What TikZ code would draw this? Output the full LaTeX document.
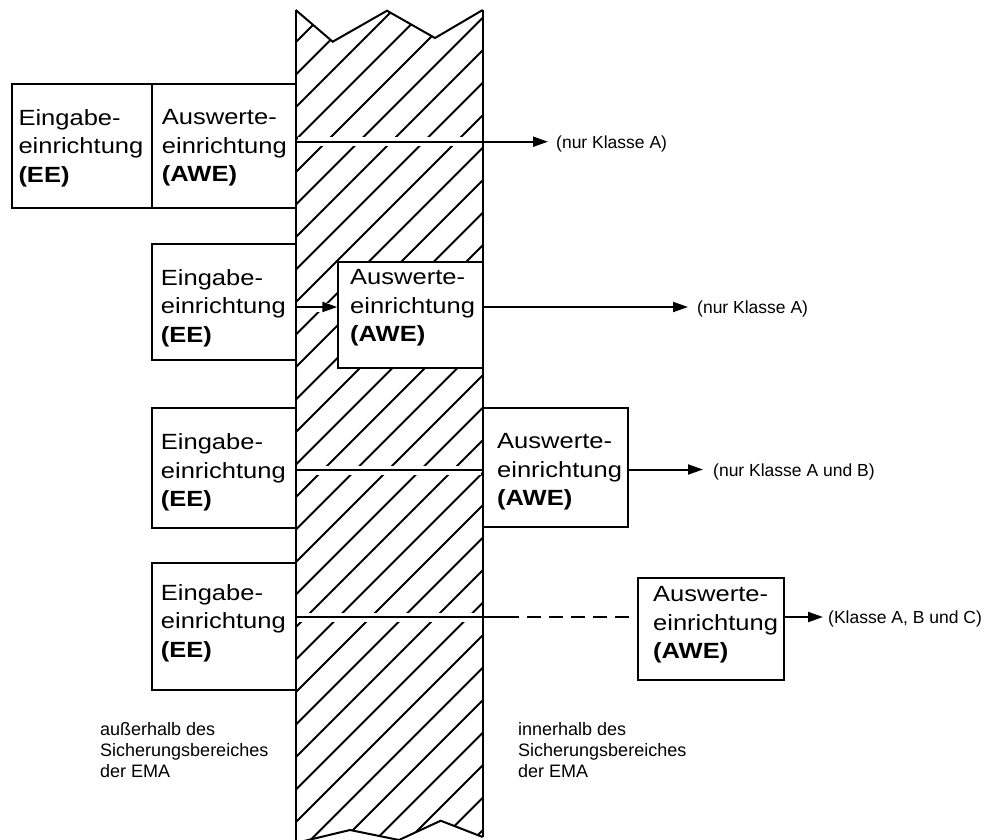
\documentclass[tikz,border=0pt]{standalone}
\usepackage{fontspec}
\setmainfont{Liberation Sans}
\newfontfamily\boxfont[FakeStretch=1.16]{Liberation Sans}
\usetikzlibrary{arrows.meta,fit}
\begin{document}
\begin{tikzpicture}[x=1pt,y=-1pt,
  box/.style={draw, line width=2pt, fill=white, inner sep=0pt},
  txt/.style={font=\boxfont\fontsize{22}{28.5}\selectfont, align=left, inner sep=0pt, anchor=north west},
  lab/.style={font=\fontsize{17.5}{21}\selectfont, inner sep=0pt, anchor=base west},
  note/.style={font=\fontsize{18}{21}\selectfont, align=left, inner sep=0pt, anchor=north west},
  wall/.style={line width=2.3pt},
  hatch/.style={line width=1.9pt},
  conn/.style={line width=2pt},
  arr/.style={conn, -{Triangle[length=15pt,width=10pt]}},
  halo/.style={white, line width=9pt}
]
\useasboundingbox (0,0) rectangle (994,839);

% hatching of the wall
\begin{scope}
  \clip (295.7,10) -- (332.7,41.7) -- (387,10.7) -- (435,38) -- (482.7,10)
        -- (482.7,837) -- (440.7,820.7) -- (399,840) -- (350,830) -- (295.7,843) -- cycle;
  \foreach \k in {9,...,41}{
    \pgfmathsetmacro{\c}{13+32.5*\k}
    \draw[hatch] (295.7,\c-295.7) -- (482.7,\c-482.7);
  }
\end{scope}

% wall outline
\draw[wall] (295.7,10) -- (295.7,845);
\draw[wall] (482.7,10) -- (482.7,837);
\draw[line width=2pt, line join=miter] (295.7,10) -- (332.7,41.7) -- (387,10.7) -- (435,38) -- (482.7,10);
\draw[line width=2pt] (295.7,843) -- (350,830) -- (399,840) -- (440.7,820.7) -- (482.7,837);

% gaps in the hatching along the connectors
\draw[halo] (298,141.7) -- (480.5,141.7);
\draw[halo] (298,307) -- (336,307);
\draw[halo] (298,470) -- (480.5,470);
\draw[halo] (298,617) -- (480.5,617);

% corner coordinates of the boxes
\coordinate (e1a) at (11.7,84);   \coordinate (e1b) at (151.7,207.7);
\coordinate (w1a) at (151.7,84);  \coordinate (w1b) at (295.7,207.7);
\coordinate (e2a) at (151.7,244); \coordinate (e2b) at (295.7,360);
\coordinate (w2a) at (338.3,262); \coordinate (w2b) at (482.7,368.3);
\coordinate (e3a) at (151.7,407.7); \coordinate (e3b) at (295.7,528);
\coordinate (w3a) at (482.7,407.7); \coordinate (w3b) at (628,527);
\coordinate (e4a) at (151.7,563); \coordinate (e4b) at (295.7,690);
\coordinate (w4a) at (638,578);   \coordinate (w4b) at (784,680);

\node[box, fit=(e1a)(e1b)] (ee1) {};
\node[box, fit=(w1a)(w1b)] (awe1) {};
\node[box, fit=(e2a)(e2b)] (ee2) {};
\node[box, fit=(w2a)(w2b)] (awe2) {};
\node[box, fit=(e3a)(e3b)] (ee3) {};
\node[box, fit=(w3a)(w3b)] (awe3) {};
\node[box, fit=(e4a)(e4b)] (ee4) {};
\node[box, fit=(w4a)(w4b)] (awe4) {};

% box texts
\node[txt] (tee1) at (18.3,109.3) {Eingabe-\\einrichtung\\\textbf{(EE)}};
\node[txt] (tawe1) at (161.7,109.3) {Auswerte-\\einrichtung\\\textbf{(AWE)}};
\node[txt] (tee2) at (160.7,269.3) {Eingabe-\\einrichtung\\\textbf{(EE)}};
\node[txt] (tawe2) at (350,269.3) {Auswerte-\\einrichtung\\\textbf{(AWE)}};
\node[txt] (tee3) at (160.7,433.5) {Eingabe-\\einrichtung\\\textbf{(EE)}};
\node[txt] (tawe3) at (497,433.5) {Auswerte-\\einrichtung\\\textbf{(AWE)}};
\node[txt] (tee4) at (160.7,584) {Eingabe-\\einrichtung\\\textbf{(EE)}};
\node[txt] (tawe4) at (653,586.5) {Auswerte-\\einrichtung\\\textbf{(AWE)}};

% connectors
\coordinate (o1) at (548,141.7);
\coordinate (y2) at (0,307);
\coordinate (o2) at (688,307);
\coordinate (y3) at (0,469.5);
\coordinate (o3) at (703,469.5);
\coordinate (d4) at (505,617);
\coordinate (o4) at (823,617);

\draw[arr] (awe1.east |- o1) -- (o1);
\draw[arr] (ee2.east |- y2) -- (awe2.west |- y2);
\draw[arr] (awe2.east |- o2) -- (o2);
\draw[conn] (ee3.east |- y3) -- (awe3.west |- y3);
\draw[arr] (awe3.east |- o3) -- (o3);
\draw[conn] (ee4.east |- d4) -- (d4);
\draw[conn, dash pattern=on 14pt off 8pt] (d4) -- (awe4.west |- d4);
\draw[arr] (awe4.east |- o4) -- (o4);

% output labels
\node[lab] (l1) at (556,148.2) {(nur Klasse A)};
\node[lab] (l2) at (697,313.5) {(nur Klasse A)};
\node[lab] (l3) at (713,476) {(nur Klasse A und B)};
\node[lab] (l4) at (828,623.5) {(Klasse A, B und C)};

% zone notes
\node[note] (n1) at (100,722) {außerhalb des\\Sicherungsbereiches\\der EMA};
\node[note] (n2) at (518,722) {innerhalb des\\Sicherungsbereiches\\der EMA};
\end{tikzpicture}
\end{document}
